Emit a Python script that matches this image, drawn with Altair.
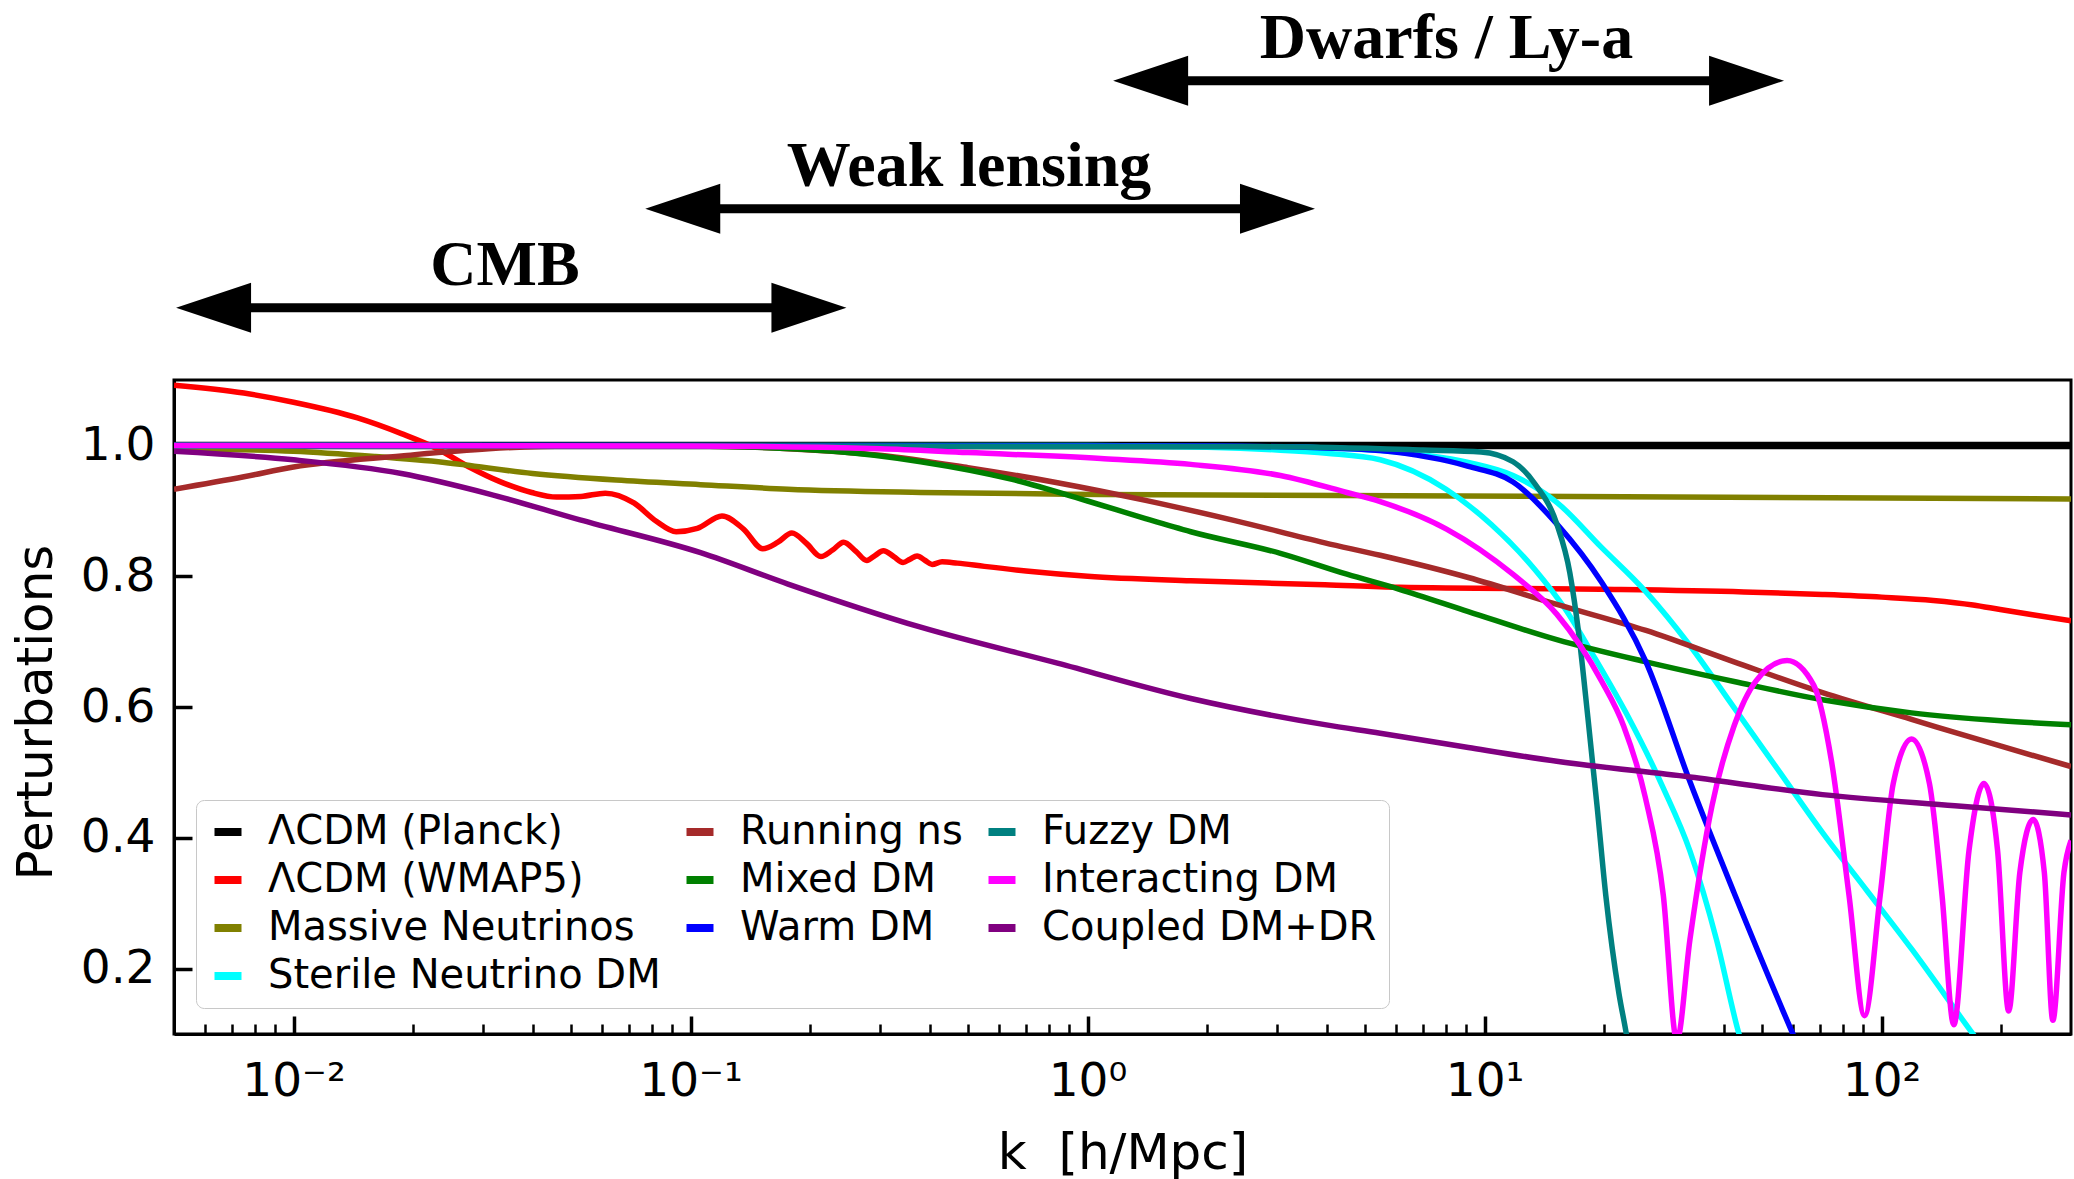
import altair as alt
import pandas as pd

# ------------------------------------------------------------------ data
K_DOMAIN = [0.005, 300]
V_DOMAIN = [0.1, 1.1]

planck_k = [0.005, 300.0]
planck_v = [1.0, 1.0]

wmap5_k = [0.005, 0.0075, 0.01, 0.0145, 0.0187, 0.023, 0.0277, 0.033, 0.0398, 0.046,
           0.053, 0.061, 0.072, 0.082, 0.092, 0.104, 0.120, 0.136, 0.152, 0.166,
           0.180, 0.196, 0.213, 0.228, 0.243, 0.261, 0.278, 0.292, 0.306, 0.325,
           0.343, 0.357, 0.372, 0.390, 0.406, 0.430, 0.470, 0.550, 0.700, 1.0,
           1.82, 3.96, 6.1, 19.6, 45.0, 71.0, 100.0, 135.0, 170.0, 199.0, 240.0, 300.0]
wmap5_v = [1.092, 1.080, 1.066, 1.042, 1.018, 0.995, 0.967, 0.945, 0.928, 0.921,
           0.922, 0.927, 0.912, 0.884, 0.868, 0.873, 0.892, 0.872, 0.842, 0.852,
           0.866, 0.850, 0.830, 0.840, 0.852, 0.838, 0.824, 0.832, 0.839, 0.830,
           0.821, 0.826, 0.831, 0.824, 0.818, 0.822, 0.820, 0.815, 0.808, 0.800,
           0.793, 0.787, 0.783, 0.780, 0.776, 0.772, 0.768, 0.763, 0.756, 0.749, 0.741, 0.732]

massive_k = [0.005, 0.01, 0.016, 0.024, 0.04, 0.065, 0.106, 0.176, 0.38, 1.08, 6.1, 30.0, 300.0]
massive_v = [0.995, 0.991, 0.983, 0.974, 0.957, 0.947, 0.940, 0.933, 0.928, 0.925, 0.923, 0.921, 0.918]

sterile_a_k = [0.005, 1.0, 2.0, 3.0, 4.0, 5.46, 8.0, 10.4, 13.4, 16.0, 18.7, 23.0, 28.2, 32.9, 38.4, 43.6, 47.0]
sterile_a_v = [1.0, 0.999, 0.997, 0.993, 0.988, 0.978, 0.933, 0.879, 0.810, 0.749, 0.681, 0.585, 0.476, 0.380, 0.244, 0.103, 0.04]

sterile_b_k = [0.005, 1.0, 3.0, 5.46, 9.1, 11.8, 15.2, 19.7, 25.5, 32.9, 42.5, 55.0, 71.0, 91.9, 119.0, 168.0, 190.0]
sterile_b_v = [1.0, 1.0, 0.998, 0.992, 0.974, 0.954, 0.913, 0.844, 0.776, 0.694, 0.599, 0.503, 0.408, 0.319, 0.230, 0.104, 0.06]

running_k = [0.005, 0.0075, 0.01, 0.0187, 0.031, 0.05, 0.1, 0.176, 0.3, 0.5, 0.84, 1.4, 2.35,
             3.96, 5.46, 9.1, 15.2, 25.5, 42.5, 71.0, 119.0, 200.0, 300.0]
running_v = [0.933, 0.952, 0.967, 0.984, 0.995, 0.999, 0.999, 0.995, 0.985, 0.966, 0.943, 0.916, 0.885,
             0.851, 0.832, 0.798, 0.757, 0.717, 0.669, 0.622, 0.581, 0.540, 0.509]

mixed_k = [0.005, 0.1, 0.229, 0.38, 0.646, 1.0, 1.4, 1.82, 3.06, 4.5, 6.1, 9.1, 15.2, 25.5,
           42.5, 71.0, 119.0, 200.0, 300.0]
mixed_v = [1.0, 0.999, 0.991, 0.975, 0.948, 0.915, 0.888, 0.868, 0.835, 0.803, 0.780, 0.746, 0.703, 0.669,
           0.639, 0.611, 0.591, 0.579, 0.573]

warm_k = [0.005, 2.0, 4.0, 5.46, 9.1, 11.8, 15.2, 19.7, 25.5, 32.9, 42.5, 59.4, 66.0]
warm_v = [1.0, 0.999, 0.996, 0.992, 0.968, 0.944, 0.880, 0.791, 0.669, 0.486, 0.316, 0.104, 0.04]

fuzzy_k = [0.005, 3.0, 7.0, 9.8, 11.8, 13.4, 15.2, 16.4, 17.3, 18.2, 19.2, 20.2, 21.8, 22.7, 23.5]
fuzzy_v = [1.0, 0.998, 0.993, 0.990, 0.975, 0.941, 0.880, 0.805, 0.708, 0.585, 0.449, 0.312, 0.162, 0.104, 0.05]

interacting_k = [0.005, 0.1, 0.3, 0.5, 1.08, 1.82, 3.06, 4.5, 5.46, 8.02, 11.78, 15.2, 19.7, 22.4,
                 25.4, 28.2, 30.5, 32.9, 37.4, 42.5, 48.3, 57.8, 67.5, 74.8, 82.8, 90.6, 99.2,
                 107.0, 119.0, 132.0, 142.0, 152.0, 166.0, 181.0, 196.0, 209.0, 223.0, 241.0,
                 257.0, 270.0, 288.0, 300.0]
interacting_v = [1.0, 0.999, 0.995, 0.989, 0.980, 0.971, 0.954, 0.928, 0.914, 0.872, 0.803, 0.742, 0.640, 0.571,
                 0.462, 0.312, 0.09, 0.244, 0.449, 0.571, 0.640, 0.671, 0.633, 0.517, 0.312, 0.128, 0.312,
                 0.483, 0.551, 0.483, 0.312, 0.114, 0.380, 0.483, 0.380, 0.135, 0.347, 0.428,
                 0.347, 0.121, 0.347, 0.396]

coupled_k = [0.005, 0.01, 0.0187, 0.031, 0.0527, 0.106, 0.176, 0.38, 0.84, 1.82, 3.96, 5.46,
             9.1, 15.2, 32.9, 71.0, 153.0, 300.0]
coupled_v = [0.991, 0.978, 0.957, 0.926, 0.886, 0.836, 0.788, 0.722, 0.667, 0.613, 0.573, 0.560,
             0.538, 0.517, 0.493, 0.466, 0.449, 0.435]

PLANCK = "ΛCDM (Planck)"
series = [
    (PLANCK, [(planck_k, planck_v)]),
    ("ΛCDM (WMAP5)", [(wmap5_k, wmap5_v)]),
    ("Massive Neutrinos", [(massive_k, massive_v)]),
    ("Sterile Neutrino DM", [(sterile_a_k, sterile_a_v), (sterile_b_k, sterile_b_v)]),
    ("Running ns", [(running_k, running_v)]),
    ("Mixed DM", [(mixed_k, mixed_v)]),
    ("Warm DM", [(warm_k, warm_v)]),
    ("Fuzzy DM", [(fuzzy_k, fuzzy_v)]),
    ("Interacting DM", [(interacting_k, interacting_v)]),
    ("Coupled DM+DR", [(coupled_k, coupled_v)]),
]
model_colors = {
    PLANCK: "#000000", "ΛCDM (WMAP5)": "#ff0000", "Massive Neutrinos": "#808000",
    "Sterile Neutrino DM": "#00ffff", "Running ns": "#a52a2a", "Mixed DM": "#008000",
    "Warm DM": "#0000ff", "Fuzzy DM": "#008080", "Interacting DM": "#ff00ff",
    "Coupled DM+DR": "#800080",
}
# legend read column by column (4 / 3 / 3) -> row-major order for a 3-column grid
legend_order = [PLANCK, "Running ns", "Fuzzy DM",
                "ΛCDM (WMAP5)", "Mixed DM", "Interacting DM",
                "Massive Neutrinos", "Warm DM", "Coupled DM+DR",
                "Sterile Neutrino DM"]

x_major = [0.01, 0.1, 1.0, 10.0, 100.0]
x_major_labels = ["10⁻²", "10⁻¹", "10⁰", "10¹", "10²"]
x_minor = [m * 10.0 ** e for e in (-3, -2, -1, 0, 1, 2) for m in range(2, 10)
           if 0.0055 < m * 10.0 ** e < 250]
y_major = [0.2, 0.4, 0.6, 0.8, 1.0]

band_names = ["CMB", "Weak lensing", "Dwarfs / Ly-a"]
band_lo = [0.00506, 0.0769, 1.16]
band_hi = [0.247, 3.74, 56.8]
band_level = [1.2105, 1.3619, 1.5576]
band_label_k = [0.0341, 0.503, 8.02]

# ------------------------------------------------------------------ frames
rows = []
for model, curves in series:
    for ci, (ks, vs) in enumerate(curves):
        for i, (k, v) in enumerate(zip(ks, vs)):
            rows.append({"model": model, "curve": f"{model}#{ci}", "i": i, "k": k, "v": v})
df = pd.DataFrame(rows)

bands = pd.DataFrame({"name": band_names, "lo": band_lo, "hi": band_hi,
                      "level": band_level, "lk": band_label_k})

label_expr = ""
for val, lab in zip(x_major, x_major_labels):
    label_expr += f"datum.value < {val * 3.1623} ? '{lab}' : "
label_expr += "''"

FONT = "DejaVu Sans"
xscale = alt.Scale(type="log", domain=K_DOMAIN, nice=False)
yscale = alt.Scale(domain=V_DOMAIN, nice=False, zero=False)


def tick_layer(vals, channel, offset, size, width):
    d = pd.DataFrame({"t": vals})
    ax = alt.Axis(offset=offset, tickSize=size, tickWidth=width, tickColor="black",
                  labels=False, domain=False, grid=False, title=None, values=vals,
                  orient="bottom" if channel == "x" else "left")
    if channel == "x":
        enc = dict(x=alt.X("t:Q", scale=xscale, axis=ax),
                   y=alt.Y(datum=0.5, scale=yscale, axis=None))
    else:
        enc = dict(y=alt.Y("t:Q", scale=yscale, axis=ax),
                   x=alt.X(datum=1.0, scale=xscale, axis=None))
    return alt.Chart(d).mark_point(opacity=0).encode(**enc)


x_major_ticks = tick_layer(x_major, "x", -18, 18, 3.5)
x_minor_ticks = tick_layer(x_minor, "x", -10, 10, 2.5)
y_major_ticks = tick_layer(y_major, "y", -18, 18, 3.5)

curves = alt.Chart(df).mark_line(clip=True, interpolate="monotone").encode(
    x=alt.X("k:Q", scale=xscale,
            axis=alt.Axis(values=x_major, labelExpr=label_expr, ticks=False, tickSize=0,
                          domain=True, domainColor="black", domainWidth=3, grid=False,
                          labelFont=FONT, labelFontSize=47,
                          labelColor="black", labelPadding=61, labelBaseline="alphabetic",
                          labelFlush=False, labelOverlap=False,
                          title="k\u00a0\u00a0[h/Mpc]", titleFont=FONT, titleFontSize=50,
                          titleFontWeight="normal", titleColor="black",
                          titleBaseline="alphabetic", titleX=948.5, titleY=134,
                          orient="bottom")),
    y=alt.Y("v:Q", scale=yscale,
            axis=alt.Axis(values=y_major, format=".1f", ticks=False, tickSize=0,
                          domain=True, domainColor="black", domainWidth=3, grid=False,
                          labelFont=FONT, labelFontSize=47,
                          labelColor="black", labelPadding=19,
                          title="Perturbations", titleFont=FONT, titleFontSize=50,
                          titleFontWeight="normal", titleColor="black",
                          titleBaseline="alphabetic", titleAngle=270,
                          titleX=-123, titleY=332, orient="left")),
    color=alt.Color("model:N",
                    scale=alt.Scale(domain=legend_order,
                                    range=[model_colors[m] for m in legend_order]),
                    legend=alt.Legend(title=None, orient="none", legendX=22, legendY=420,
                                      direction="horizontal", columns=3,
                                      symbolType="stroke", symbolSize=729,
                                      symbolStrokeWidth=8, labelFont=FONT, labelFontSize=40,
                                      labelColor="black", labelLimit=700, labelOffset=20,
                                      columnPadding=9, rowPadding=8, padding=12,
                                      strokeColor="#c8c8c8", cornerRadius=8,
                                      fillColor="rgba(255,255,255,0.85)")),
    detail="curve:N",
    order="i:Q",
    strokeWidth=alt.when(alt.datum.model == PLANCK).then(alt.value(7.5)).otherwise(alt.value(5.5)),
)

LEFT_HEAD = "M0,0 L2,-0.6667 L2,0.6667 Z"
RIGHT_HEAD = "M0,0 L-2,-0.6667 L-2,0.6667 Z"

shafts = alt.Chart(bands).mark_rule(strokeWidth=9, color="black", xOffset=37, x2Offset=-37).encode(
    x=alt.X("lo:Q", scale=xscale, axis=None), x2="hi:Q",
    y=alt.Y("level:Q", scale=yscale, axis=None))
left_heads = alt.Chart(bands).mark_point(shape=LEFT_HEAD, size=5625, filled=True, opacity=1,
                                         color="black", strokeWidth=0).encode(
    x=alt.X("lo:Q", scale=xscale, axis=None), y=alt.Y("level:Q", scale=yscale, axis=None))
right_heads = alt.Chart(bands).mark_point(shape=RIGHT_HEAD, size=5625, filled=True, opacity=1,
                                          color="black", strokeWidth=0).encode(
    x=alt.X("hi:Q", scale=xscale, axis=None), y=alt.Y("level:Q", scale=yscale, axis=None))
band_text = alt.Chart(bands).mark_text(font="Liberation Serif", fontWeight="bold", fontSize=64,
                                       baseline="alphabetic", align="center", dy=-23,
                                       color="black").encode(
    x=alt.X("lk:Q", scale=xscale, axis=None), y=alt.Y("level:Q", scale=yscale, axis=None),
    text="name:N")

chart = alt.layer(
    x_major_ticks, x_minor_ticks, y_major_ticks, curves,
    shafts, left_heads, right_heads, band_text,
).resolve_axis(x="independent", y="independent").properties(
    width=1897, height=654,
    autosize=alt.AutoSizeParams(type="none"),
    padding={"left": 174, "top": 380, "right": 3, "bottom": 145},
).configure(font=FONT).configure_view(stroke="black", strokeWidth=3, strokeOpacity=1)

chart.save("out.html", embed_options={"renderer": "svg", "actions": False})
